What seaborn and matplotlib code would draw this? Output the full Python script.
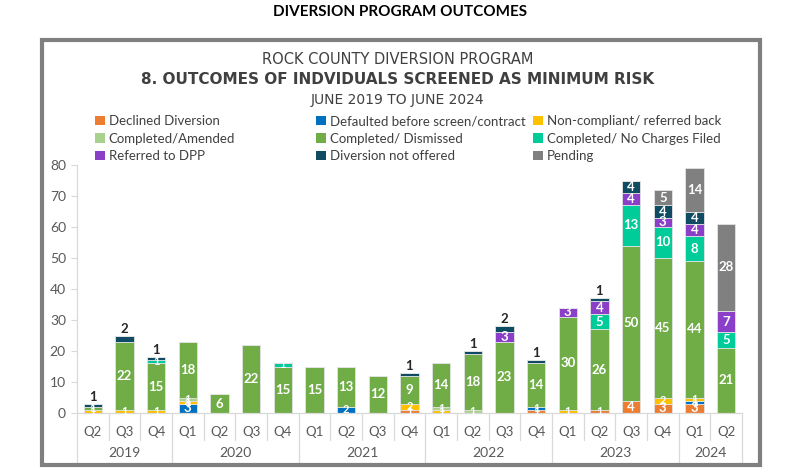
import numpy as np
import pandas as pd
import matplotlib
matplotlib.use("Agg")
import matplotlib.pyplot as plt
from matplotlib.patches import Rectangle, Patch
from matplotlib.lines import Line2D
import seaborn as sns

# ---------------- data ----------------
years = ["2019", "2020", "2021", "2022", "2023", "2024"]
quarters = ["Q2", "Q3", "Q4",
            "Q1", "Q2", "Q3", "Q4",
            "Q1", "Q2", "Q3", "Q4",
            "Q1", "Q2", "Q3", "Q4",
            "Q1", "Q2", "Q3", "Q4",
            "Q1", "Q2"]
quarter_years = ["2019"] * 3 + ["2020"] * 4 + ["2021"] * 4 + ["2022"] * 4 + ["2023"] * 4 + ["2024"] * 2

series_names = ["Declined Diversion", "Defaulted before screen/contract", "Non-compliant/ referred back",
                "Completed/Amended", "Completed/ Dismissed", "Completed/ No Charges Filed",
                "Referred to DPP", "Diversion not offered", "Pending"]

declined     = [0, 0, 0, 0, 0, 0, 0, 0, 0, 0, 1, 0, 0, 0, 1, 0, 1, 4, 3, 3, 0]
defaulted    = [0, 0, 0, 3, 0, 0, 0, 0, 2, 0, 0, 0, 0, 0, 1, 0, 0, 0, 0, 1, 0]
noncompliant = [1, 1, 1, 1, 0, 0, 0, 0, 0, 0, 2, 1, 0, 0, 0, 1, 0, 0, 2, 1, 0]
amended      = [0, 0, 0, 1, 0, 0, 0, 0, 0, 0, 0, 1, 1, 0, 0, 0, 0, 0, 0, 0, 0]
dismissed    = [1, 22, 15, 18, 6, 22, 15, 15, 13, 12, 9, 14, 18, 23, 14, 30, 26, 50, 45, 44, 21]
no_charges   = [0, 0, 1, 0, 0, 0, 1, 0, 0, 0, 0, 0, 0, 0, 0, 0, 5, 13, 10, 8, 5]
dpp          = [0, 0, 0, 0, 0, 0, 0, 0, 0, 0, 0, 0, 0, 3, 0, 3, 4, 4, 3, 4, 7]
not_offered  = [1, 2, 1, 0, 0, 0, 0, 0, 0, 0, 1, 0, 1, 2, 1, 0, 1, 4, 4, 4, 0]
pending      = [0, 0, 0, 0, 0, 0, 0, 0, 0, 0, 0, 0, 0, 0, 0, 0, 0, 0, 5, 14, 28]

series_values = [declined, defaulted, noncompliant, amended, dismissed,
                 no_charges, dpp, not_offered, pending]
series_colors = ["#ED7D31", "#0070C0", "#FFC000", "#A9D18E", "#70AD47",
                 "#00CC99", "#8B3FC8", "#0F4C63", "#808080"]

yticks = [0, 10, 20, 30, 40, 50, 60, 70, 80]

# ---------------- figure ----------------
sns.set_theme(style="white")
plt.rcParams["font.family"] = ["Lato", "DejaVu Sans"]

W, H = 798, 476
fig = plt.figure(figsize=(W / 100, H / 100), dpi=100)
fig.patch.set_facecolor("white")

def fx(px):
    return px / W

def fy(py):
    return 1 - py / H

ax = fig.add_axes([fx(77), fy(413), fx(742) - fx(77), fy(165) - fy(413)])
ax.set_facecolor("white")

period_ids = [f"{y} {q}" for y, q in zip(quarter_years, quarters)]
n = len(period_ids)
bottom = np.zeros(n)
handles = []
for name, vals, col in zip(series_names, series_values, series_colors):
    df = pd.DataFrame({"period": period_ids, "value": vals})
    sns.barplot(data=df, x="period", y="value", order=period_ids, color=col,
                saturation=1, width=0.57, bottom=bottom.copy(), ax=ax,
                edgecolor="#E3E3E3", linewidth=0.6, errorbar=None)
    vals_arr = np.array(vals, dtype=float)
    for i, v in enumerate(vals_arr):
        if v <= 0:
            continue
        if name == "Diversion not offered" and v <= 2:
            ax.text(i, bottom[i] + v + 0.3, f"{int(v)}", ha="center", va="bottom",
                    fontsize=9.5, fontweight="bold", color="#262626", zorder=5)
        else:
            fs = 9.5 if v >= 3 else 8
            ax.text(i, bottom[i] + v / 2, f"{int(v)}", ha="center", va="center",
                    fontsize=fs, fontweight="bold", color="white", zorder=5)
    bottom += vals_arr
    handles.append(Patch(facecolor=col, edgecolor="none", label=name))

ax.set_ylim(0, 80)
ax.set_xlim(-0.5, n - 0.5)
ax.set_yticks(yticks)
ax.set_yticklabels([str(t) for t in yticks], fontsize=10, color="#595959")
ax.set_xticks(range(n))
ax.set_xticklabels(quarters, fontsize=9.5, color="#595959")
ax.set_xlabel("")
ax.set_ylabel("")
ax.tick_params(axis="x", length=0, pad=9)
ax.tick_params(axis="y", length=4, width=0.8, color="#D9D9D9", pad=4, left=True)
for s in ["top", "right"]:
    ax.spines[s].set_visible(False)
for s in ["left", "bottom"]:
    ax.spines[s].set_color("#D9D9D9")
    ax.spines[s].set_linewidth(0.9)
ax.grid(False)

# multi-level category axis separators and year labels
trans = ax.get_xaxis_transform()
axh_px = 413 - 165
year_bounds = []
start = 0
for y in years:
    cnt = quarter_years.count(y)
    year_bounds.append((y, start, start + cnt))
    start += cnt
year_edges = set()
for _, s0, s1 in year_bounds:
    year_edges.add(s0)
    year_edges.add(s1)
for k in range(n + 1):
    bottom_frac = -50 / axh_px if k in year_edges else -27 / axh_px
    ax.add_line(Line2D([k - 0.5, k - 0.5], [0, bottom_frac], transform=trans,
                       color="#D9D9D9", lw=0.9, clip_on=False))
for y, s0, s1 in year_bounds:
    ax.text((s0 + s1 - 1) / 2, -40 / axh_px, y, transform=trans, ha="center", va="center",
            fontsize=10, color="#595959")

# outer chart border
fig.patches.append(Rectangle((fx(42), fy(465)), fx(760) - fx(42), fy(40) - fy(465),
                             transform=fig.transFigure, fill=False,
                             edgecolor="#7F7F7F", linewidth=3))

# titles
fig.text(fx(400), fy(12), "DIVERSION PROGRAM OUTCOMES", ha="center", va="center",
         fontsize=11, fontweight="bold", color="black")
fig.text(fx(398), fy(60), "ROCK COUNTY DIVERSION PROGRAM", ha="center", va="center",
         fontsize=10.5, color="#404040", family=["DejaVu Sans"])
fig.text(fx(398), fy(79), "8. OUTCOMES OF INDVIDUALS SCREENED AS MINIMUM RISK", ha="center",
         va="center", fontsize=11, fontweight="bold", color="#404040", family=["DejaVu Sans"])
fig.text(fx(398), fy(100), "JUNE 2019 TO JUNE 2024", ha="center", va="center",
         fontsize=10, color="#404040", family=["DejaVu Sans"])

# legend: three columns (rows filled left-to-right as in the reference)
col_x = [95, 316, 533]
for c in range(3):
    hs = [handles[r * 3 + c] for r in range(3)]
    leg = fig.legend(handles=hs, loc="upper left", bbox_to_anchor=(fx(col_x[c]), fy(115)),
                     frameon=False, fontsize=9.5, handlelength=0.75, handleheight=0.75,
                     handletextpad=0.3, labelspacing=0.42, borderpad=0, borderaxespad=0)
    for t in leg.get_texts():
        t.set_color("#404040")

fig.savefig("out.png", dpi=100, facecolor="white")
